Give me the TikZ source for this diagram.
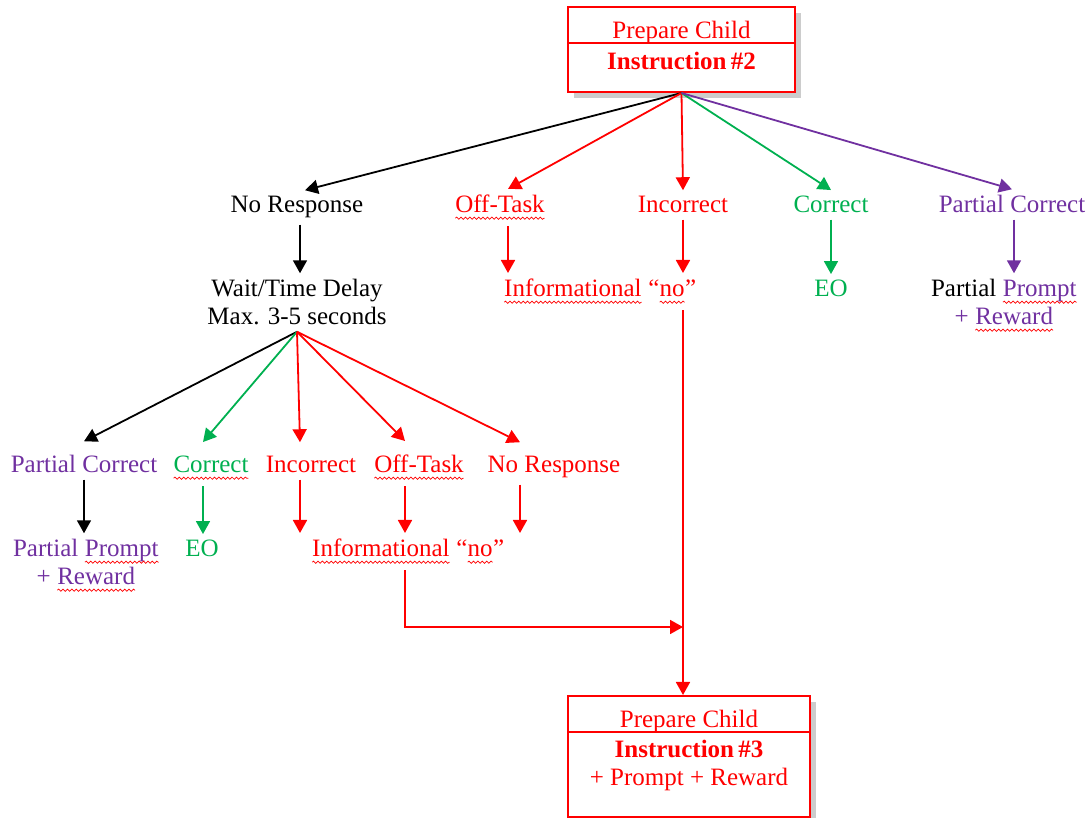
\documentclass[tikz,border=0pt]{standalone}
\usepackage{fontspec}
\setmainfont{Liberation Serif}
\usetikzlibrary{arrows.meta, calc, shadows, decorations.pathmorphing}
\definecolor{wgreen}{RGB}{0,176,80}
\definecolor{wpurple}{RGB}{112,48,160}
\tikzset{
    lbl/.style={inner sep=3pt, anchor=base, align=center, font=\fontsize{12.5}{14}\selectfont},
    boldlbl/.style={lbl, font=\fontsize{12.5}{14}\selectfont\bfseries},
    arr/.style={line width=0.9pt, -{Triangle[length=6.5pt, width=7pt]}},
    box/.style={draw=red, line width=1pt, fill=white, drop shadow={opacity=0.4, shadow xshift=3pt, shadow yshift=-3pt}},
    squiggle/.style={red, line width=0.35pt, decorate, decoration={snake, amplitude=0.55pt, segment length=2.2pt}}
}
\newcommand{\squig}[1]{\tikz[baseline=(sq.base)]{\node[inner sep=0pt, outer sep=0pt] (sq) {#1};
    \draw[squiggle] ([yshift=-2.6pt]sq.base west) -- ([yshift=-2.6pt]sq.base east);}}

\begin{document}
\begin{tikzpicture}[x=0.5pt, y=-0.5pt]
    \useasboundingbox (0,0) rectangle (1089,818);
    % first instruction
    \node[box, minimum width=113.5pt, minimum height=42.5pt] (box2) at (681.5,49.5) {};
    \draw[red, line width=1pt] ($(box2.north west)+(0,37)$) -- ($(box2.north east)+(0,37)$);
    \node[lbl, red] (prep2) at (681.5,39) {Prepare Child};
    \node[boldlbl, red] (instr2) at (681.5,70) {Instruction\,\#2};

    % responses
    \node[lbl] (noresp) at (297,213) {No Response};
    \node[lbl, red] (offtask) at (500,213) {\squig{Off-Task}};
    \node[lbl, red] (incor) at (683,213) {Incorrect};
    \node[lbl, wgreen] (corr) at (831,213) {Correct};
    \node[lbl, wpurple] (partc) at (1012,213) {Partial Correct};
    \draw[arr] (box2.south) -- ([xshift=4pt]noresp.north);
    \draw[arr, red] (box2.south) -- ([xshift=4pt]offtask.north);
    \draw[arr, red] (box2.south) -- (incor.north);
    \draw[arr, wgreen] (box2.south) -- (corr.north);
    \draw[arr, wpurple] (box2.south) -- (partc.north);

    % consequences
    \node[lbl] (wait) at (297,325) {Wait/Time Delay\\Max. 3-5 seconds};
    \node[lbl, red] (info) at (600,297) {\squig{Informational} “\squig{no}”};
    \node[lbl, wgreen] (eo) at (831,297) {EO};
    \node[lbl, wpurple] (pprompt) at (1004,325) {{\color{black}Partial} \squig{Prompt}\\+ \squig{Reward}};
    \draw[arr] ([xshift=1.5pt]noresp.south) -- ([xshift=1.5pt]noresp.south |- wait.north);
    \draw[arr, red] ([xshift=4pt]offtask.south) -- ([xshift=4pt]offtask.south |- info.north);
    \draw[arr, red] (incor.south) -- (incor.south |- info.north);
    \draw[arr, wgreen] (corr.south) -- (eo.north);
    \draw[arr, wpurple] ([xshift=1pt]partc.south) -- ([xshift=1pt]partc.south |- pprompt.north);

    % responses after the delay
    \node[lbl, wpurple] (partc2) at (84,473) {Partial Correct};
    \node[lbl, wgreen] (corr2) at (211,473) {\squig{Correct}};
    \node[lbl, red] (incor2) at (311,473) {Incorrect};
    \node[lbl, red] (off2) at (419,473) {\squig{Off-Task}};
    \node[lbl, red] (nr2) at (554,473) {No Response};
    \draw[arr] (wait.south) -- ([yshift=4pt]partc2.north);
    \draw[arr, wgreen] (wait.south) -- ([xshift=-4pt, yshift=4pt]corr2.north);
    \draw[arr, red] (wait.south) -- ([xshift=-5.5pt, yshift=4pt]incor2.north);
    \draw[arr, red] (wait.south) -- ([xshift=-7pt, yshift=4pt]off2.north);
    \draw[arr, red] (wait.south) -- ([xshift=-17pt, yshift=4pt]nr2.north);

    \node[lbl, wpurple] (pprompt2) at (86,585) {Partial \squig{Prompt}\\+ \squig{Reward}};
    \node[lbl, wgreen] (eo2) at (202,557) {EO};
    \node[lbl, red] (info2) at (408,557) {\squig{Informational} “\squig{no}”};
    \draw[arr] (partc2.south) -- (partc2.south |- pprompt2.north);
    \draw[arr, wgreen] ([xshift=-4pt]corr2.south) -- ([xshift=-4pt]corr2.south |- eo2.north);
    \draw[arr, red] ([xshift=-5.5pt]incor2.south) -- ([xshift=-5.5pt]incor2.south |- info2.north);
    \draw[arr, red] ([xshift=-7pt]off2.south) -- ([xshift=-7pt]off2.south |- info2.north);
    \draw[arr, red] ([xshift=-17pt]nr2.south) -- ([xshift=-17pt]nr2.south |- info2.north);

    % next instruction
    \node[box, minimum width=121pt, minimum height=60.5pt] (box3) at (689,756.5) {};
    \draw[red, line width=1pt] ($(box3.north west)+(0,37)$) -- ($(box3.north east)+(0,37)$);
    \node[lbl, red] (prep3) at (689,727) {Prepare Child};
    \node[boldlbl, red] (instr3) at (689,758) {Instruction\,\#3};
    \node[lbl, red] (plus3) at (689,785) {+ Prompt + Reward};
    \coordinate (join) at (683,627);
    \draw[arr, red] (incor.south |- info.south) -- (incor.south |- box3.north);
    \draw[arr, red] ([xshift=-1.5pt]info2.south) |- (join);
\end{tikzpicture}
\end{document}
